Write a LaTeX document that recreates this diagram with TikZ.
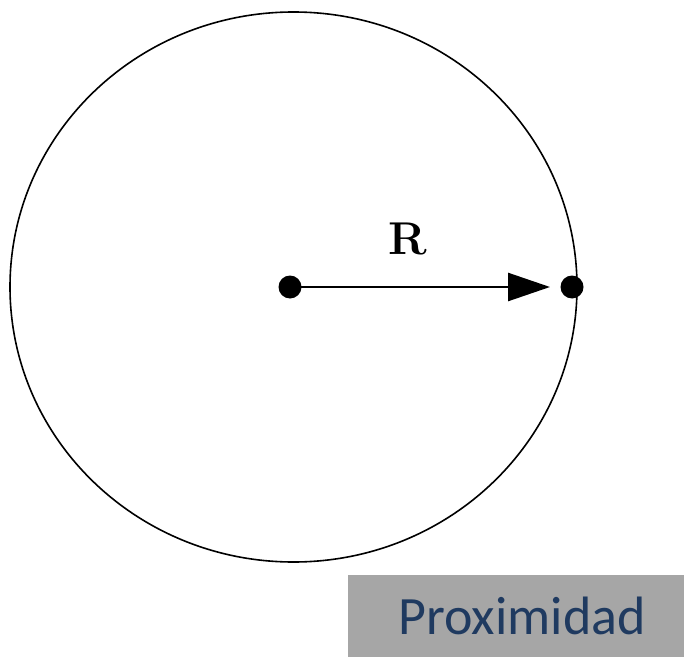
\documentclass[tikz,border=0pt]{standalone}
\usepackage{fontspec}
\newfontfamily\boxfont{Carlito}
\usetikzlibrary{arrows.meta}
\definecolor{boxgray}{HTML}{A6A6A6}
\definecolor{boxblue}{HTML}{1F3A60}

\begin{document}
\begin{tikzpicture}[x=1pt,y=1pt,
		pt/.style={circle, fill=black, inner sep=0pt, minimum size=23pt},
		tagbox/.style={fill=boxgray, text=boxblue, font=\boxfont\fontsize{54}{60}\selectfont,
			minimum width=336pt, minimum height=82pt, inner sep=0pt, anchor=south west}]
		\useasboundingbox (0,0) rectangle (684,657);
		\draw[line width=1.6pt](293.5,370) ellipse (283.5 and 275);
		\node[pt] (ctr) at (290,370) {};
		\node[pt] (rim) at (572,370) {};
		\coordinate (tip) at (550,370);
		\draw[line width=2.6pt, -{Triangle[length=42pt,width=28pt]}] (ctr.center) -- (tip);
		\node[font=\bfseries\fontsize{46}{50}\selectfont] (rlab) at (408,418) {R};
		\node[tagbox] (prox) at (348,0) {\hspace{12pt}Proximidad};
	\end{tikzpicture}
\end{document}
